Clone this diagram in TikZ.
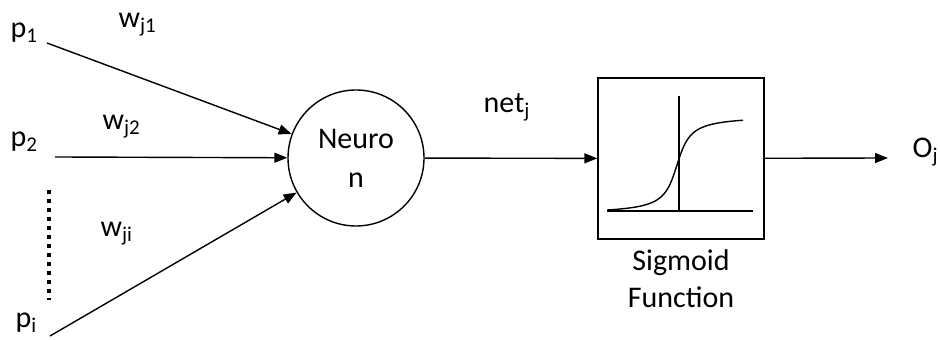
\documentclass[tikz,border=0pt]{standalone}
\usepackage{fontspec}
\setmainfont{Carlito}
\usetikzlibrary{arrows.meta,calc,positioning}

\begin{document}
\begin{tikzpicture}[x=0.5pt,y=-0.5pt,>={Triangle[length=6.5pt,width=5pt]},
  line width=0.7pt,font=\fontsize{15}{18.5}\selectfont]
  \useasboundingbox (0,0) rectangle (940,340);
  % inputs
  \node[anchor=base west,inner sep=0pt] (p1) at (10,38) {p\textsubscript{1}};
  \node[anchor=base west,inner sep=0pt] (p2) at (10,147) {p\textsubscript{2}};
  \node[anchor=base west,inner sep=0pt] (pi) at (15,328) {p\textsubscript{i}};
  \coordinate (s1) at (47,43);
  \coordinate (s2) at (55,157);
  \coordinate (si) at (50,336);
  \node[anchor=base west,inner sep=0pt] (w1) at (118,28) {w\textsubscript{j1}};
  \node[anchor=base west,inner sep=0pt] (w2) at (102,130) {w\textsubscript{j2}};
  \node[anchor=base west,inner sep=0pt] (wi) at (100,237) {w\textsubscript{ji}};
  \draw[line width=2pt,dash pattern=on 2pt off 2.5pt] (49,190) -- (49,300);
  % neuron and sigmoid
  \node[draw,circle,minimum size=68pt,inner sep=0pt,align=center] (neuron) at (356,158)
    {Neuro\\[1pt]n};
  \node[draw,minimum width=83pt,minimum height=80.5pt] (sig) at (681,158.5) {};
  \node[align=center,below=1.5pt of sig] (siglab) {Sigmoid\\Function};
  \draw (607,211) -- (753,211);
  \draw (679,96) -- (679,212);
  \draw[domain=607:743,samples=80] plot (\x,{165-0.55*atan((\x-677)/10)});
  \node[anchor=base west,inner sep=0pt] (net) at (483,113) {net\textsubscript{j}};
  \node[anchor=base west,inner sep=0pt] (out) at (912,158) {O\textsubscript{j}};
  \coordinate (oe) at (888,158);
  \draw[->] (s1) -- (neuron);
  \draw[->] (s2) -- (neuron);
  \draw[->] (si) -- (neuron);
  \draw[->] (neuron) -- (sig);
  \draw[->] (sig) -- (oe);
\end{tikzpicture}
\end{document}
